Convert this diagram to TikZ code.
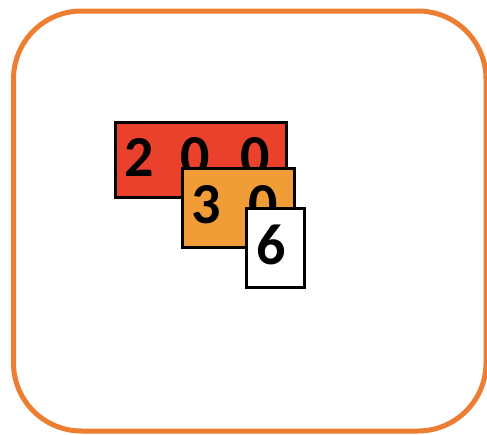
\documentclass[tikz,border=0pt]{standalone}
\usepackage{fontspec}
\setmainfont{Carlito}
\tikzset{
  frame/.style={draw={rgb,255:red,237;green,125;blue,49}, line width=5pt, rounded corners=68pt},
  card/.style={draw=black, line width=3pt, anchor=north west, inner sep=0pt},
  digit/.style={font=\fontsize{58}{58}\selectfont\bfseries, inner sep=0pt}
}
\definecolor{cardred}{RGB}{234,65,45}
\definecolor{cardorange}{RGB}{240,157,56}
\begin{document}
\begin{tikzpicture}[x=1pt,y=-1pt]
\useasboundingbox (0,0) rectangle (487,434);
\draw[frame] (13.5,11) rectangle (486,431);
\node[card, fill=cardred, minimum width=171pt, minimum height=75pt] (red) at (113.5,120.5) {};
\node[digit] (d2) at (139,157) {2};
\node[digit] (d0a) at (195,157) {0};
\node[digit] (d0b) at (255,157) {0};
\node[card, fill=cardorange, minimum width=112pt, minimum height=79pt] (orange) at (180.5,166.5) {};
\node[digit] (d3) at (206,205) {3};
\node[digit] (d0c) at (263,205) {0};
\node[card, fill=white, minimum width=58pt, minimum height=79pt] (white) at (244.5,206.5) {};
\node[digit] (d6) at (271,245) {6};
\end{tikzpicture}
\end{document}
